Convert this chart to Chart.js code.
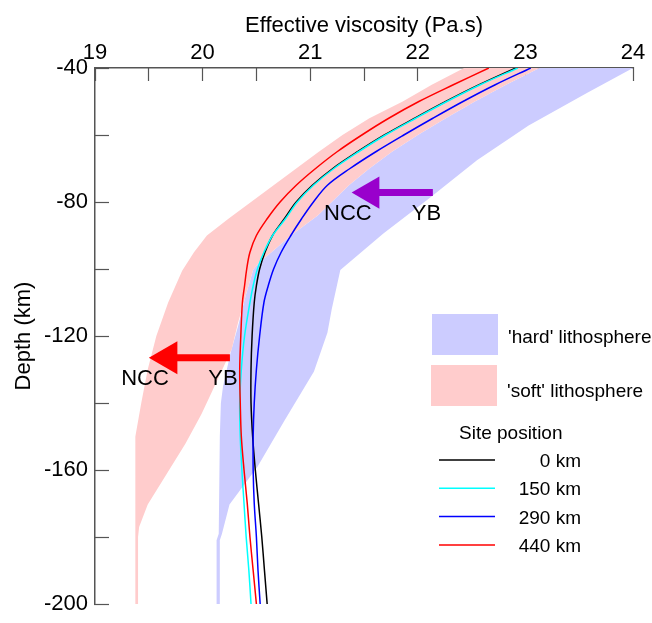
<!DOCTYPE html>
<html>
<head>
<meta charset="utf-8">
<script src="https://cdn.jsdelivr.net/npm/chart.js@4.4.0/dist/chart.umd.min.js"></script>
<style>
  html, body { margin: 0; padding: 0; background: #fff; }
</style>
</head>
<body>
<canvas id="grafico" width="652" height="623"></canvas>
<script>
// 🔥 datos
let profundidad = [-40, -45, -50, -55, -60, -65, -70, -75, -80, -85, -90, -95, -100, -105, -110, -120, -130, -140, -150, -160, -170, -180, -190, -200];

let visc0   = [22.91, 22.57, 22.26, 21.97, 21.69, 21.44, 21.21, 21.02, 20.87, 20.76, 20.65, 20.58, 20.53, 20.50, 20.48, 20.46, 20.45, 20.45, 20.465, 20.49, 20.52, 20.55, 20.575, 20.60];
let visc150 = [22.93, 22.58, 22.27, 21.98, 21.70, 21.45, 21.22, 21.03, 20.88, 20.77, 20.65, 20.57, 20.51, 20.47, 20.44, 20.39, 20.36, 20.345, 20.35, 20.365, 20.385, 20.405, 20.43, 20.45];
let visc290 = [23.05, 22.72, 22.42, 22.14, 21.87, 21.61, 21.37, 21.16, 21.03, 20.92, 20.82, 20.73, 20.66, 20.61, 20.57, 20.53, 20.50, 20.48, 20.47, 20.47, 20.48, 20.50, 20.515, 20.535];
let visc440 = [22.66, 22.33, 22.01, 21.73, 21.48, 21.25, 21.05, 20.87, 20.72, 20.60, 20.50, 20.44, 20.41, 20.39, 20.37, 20.355, 20.345, 20.35, 20.36, 20.385, 20.415, 20.44, 20.47, 20.50];

// litosfera 'hard' (contorno cerrado)
let duraX = [23.13, 24.0, 23.58, 23.03, 22.55, 22.11, 21.68, 21.28, 21.20, 21.16, 21.13, 21.035, 20.76, 20.51, 20.25, 20.18, 20.16, 20.16, 20.13, 20.13, 20.15, 20.16, 20.17, 20.19, 20.26, 20.33, 20.40, 20.47, 20.52, 20.64, 20.82, 21.07, 21.20, 21.36, 21.55, 21.76, 22.00, 22.26, 22.53, 22.82, 23.13];
let duraY = [-40, -40, -47.3, -57.2, -67.5, -78.8, -89.4, -100.3, -112, -119, -121.8, -130.6, -145.3, -159, -170.3, -179, -181, -200, -200, -181, -179, -150, -140, -135, -125, -117, -108, -100.2, -98.2, -95, -90, -84, -80, -75, -70, -65, -60, -55, -50, -45, -40];

// litosfera 'soft' (contorno cerrado)
let blandaX = [22.43, 23.13, 22.82, 22.53, 22.26, 22.00, 21.76, 21.55, 21.36, 21.20, 21.07, 20.82, 20.64, 20.52, 20.47, 20.40, 20.33, 20.27, 20.09, 19.99, 19.84, 19.65, 19.49, 19.41, 19.40, 19.40, 19.375, 19.375, 19.43, 19.49, 19.57, 19.68, 19.81, 19.92, 20.04, 20.24, 20.45, 20.66, 20.87, 21.08, 21.30, 21.55, 21.86, 22.13, 22.43];
let blandaY = [-40, -40, -45, -50, -55, -60, -65, -70, -75, -80, -84, -90, -95, -98.2, -100.2, -108, -116, -124, -136.4, -143.3, -152.2, -162, -170.3, -177, -180, -200, -200, -150, -140, -130, -120, -110, -100.5, -95, -90, -85, -80, -75, -70, -65, -60, -55, -50, -45, -40];

// flechas YB -> NCC
let flechaMoradaX = [22.14, 21.62];
let flechaMoradaY = -77.2;
let puntaMoradaX = 21.557;
let flechaRojaX = [20.254, 19.74];
let flechaRojaY = -126.5;
let puntaRojaX = 19.677;

let etiquetas = [
    { texto: "NCC", x: 21.35, y: -83.5 },
    { texto: "YB", x: 22.08, y: -83.5 },
    { texto: "NCC", x: 19.465, y: -132.7 },
    { texto: "YB", x: 20.19, y: -132.7 }
];

let ticksX = [19, 20, 21, 22, 23, 24];
let ticksY = [-40, -80, -120, -160, -200];

let fuente = '"Liberation Sans", Arial, sans-serif';
Chart.defaults.font.family = fuente;
Chart.defaults.color = "#000";

function puntos(xs, ys) {
    return xs.map((x, i) => ({ x: x, y: Array.isArray(ys) ? ys[i] : ys }));
}

function curva(label, valores, color, orden) {
    return {
        label: label,
        sitio: true,
        data: puntos(valores, profundidad),
        borderColor: color,
        borderWidth: 1.5,
        pointRadius: 0,
        tension: 0.35,
        fill: false,
        order: orden
    };
}

function banda(xs, ys, color, orden) {
    return {
        data: puntos(xs, ys),
        backgroundColor: color,
        borderColor: "transparent",
        borderWidth: 0,
        pointRadius: 0,
        tension: 0,
        fill: "shape",
        order: orden
    };
}

// 🔥 textos NCC / YB
const textos = {
    id: "textos",
    afterDatasetsDraw(chart) {
        let ctx = chart.ctx;
        let x = chart.scales.x, y = chart.scales.y;
        ctx.save();
        ctx.font = "22px " + fuente;
        ctx.fillStyle = "#000";
        ctx.textAlign = "center";
        ctx.textBaseline = "middle";
        etiquetas.forEach(e => {
            ctx.fillText(e.texto, x.getPixelForValue(e.x), y.getPixelForValue(e.y));
        });
        ctx.restore();
    }
};

// 🔥 leyenda propia
const leyenda = {
    id: "leyenda",
    afterDraw(chart) {
        let ctx = chart.ctx;
        let ds = chart.data.datasets;
        ctx.save();
        ctx.fillStyle = ds[4].backgroundColor;
        ctx.fillRect(432, 314, 66, 41);
        ctx.fillStyle = ds[5].backgroundColor;
        ctx.fillRect(431, 365, 66, 41);

        ctx.fillStyle = "#000";
        ctx.font = "19px " + fuente;
        ctx.textAlign = "left";
        ctx.fillText("'hard' lithosphere", 508, 343);
        ctx.fillText("'soft' lithosphere", 507, 397);
        ctx.fillText("Site position", 459, 439);

        ctx.textAlign = "right";
        let fila = 0;
        ds.filter(d => d.sitio).forEach(d => {
            let yy = 460 + fila * 28.3;
            ctx.strokeStyle = d.borderColor;
            ctx.lineWidth = 1.5;
            ctx.beginPath();
            ctx.moveTo(439, yy);
            ctx.lineTo(495, yy);
            ctx.stroke();
            ctx.fillText(d.label, 581, yy + 7);
            fila++;
        });
        ctx.restore();
    }
};

new Chart(document.getElementById("grafico"), {
    type: "line",
    data: {
        datasets: [
            curva("0 km", visc0, "#000000", 5),
            curva("150 km", visc150, "#00ffff", 4),
            curva("290 km", visc290, "#0000ff", 3),
            curva("440 km", visc440, "#ff0000", 2),
            banda(duraX, duraY, "#ccccff", 11),
            banda(blandaX, blandaY, "#ffcccc", 10),
            {
                data: puntos(flechaMoradaX, flechaMoradaY),
                borderColor: "#9900cc", borderWidth: 7, borderCapStyle: "butt",
                pointRadius: 0, fill: false, order: 1
            },
            {
                data: puntos([puntaMoradaX], flechaMoradaY),
                showLine: false, pointStyle: "triangle", pointRotation: -90,
                pointRadius: 18.5, pointBackgroundColor: "#9900cc", pointBorderWidth: 0, order: 0
            },
            {
                data: puntos(flechaRojaX, flechaRojaY),
                borderColor: "#ff0000", borderWidth: 7, borderCapStyle: "butt",
                pointRadius: 0, fill: false, order: 1
            },
            {
                data: puntos([puntaRojaX], flechaRojaY),
                showLine: false, pointStyle: "triangle", pointRotation: -90,
                pointRadius: 19, pointBackgroundColor: "#ff0000", pointBorderWidth: 0, order: 0
            }
        ]
    },
    options: {
        responsive: false,
        animation: false,
        events: [],
        layout: { padding: { left: 0, top: 0, right: 13, bottom: 10 } },
        plugins: { legend: { display: false }, tooltip: { enabled: false } },
        scales: {
            x: {
                type: "linear",
                position: "top",
                min: 19, max: 24,
                afterFit: s => { s.height = 68; s.paddingLeft = 0; s.paddingRight = 0; },
                border: { color: "#555", width: 1.5 },
                grid: { drawOnChartArea: false, tickLength: -13, tickColor: "#555", tickWidth: 1.2 },
                ticks: {
                    stepSize: 0.5, padding: 15, maxRotation: 0, autoSkip: false,
                    font: { size: 22 },
                    callback: v => ticksX.includes(v) ? v : ""
                },
                title: { display: true, text: "Effective viscosity (Pa.s)", font: { size: 22 }, padding: { top: 13, bottom: 0 } }
            },
            y: {
                type: "linear",
                min: -200, max: -40,
                afterFit: s => { s.width = 95; s.paddingTop = 0; s.paddingBottom = 0; },
                border: { color: "#555", width: 1.5 },
                grid: { drawOnChartArea: false, tickLength: -14, tickColor: "#555", tickWidth: 1.2 },
                ticks: {
                    stepSize: 20, padding: 21, autoSkip: false,
                    font: { size: 22 },
                    callback: v => ticksY.includes(v) ? v : ""
                },
                title: { display: true, text: "Depth (km)", font: { size: 22 }, padding: { top: 11, bottom: 0 } }
            }
        }
    },
    plugins: [textos, leyenda]
});
</script>
</body>
</html>
